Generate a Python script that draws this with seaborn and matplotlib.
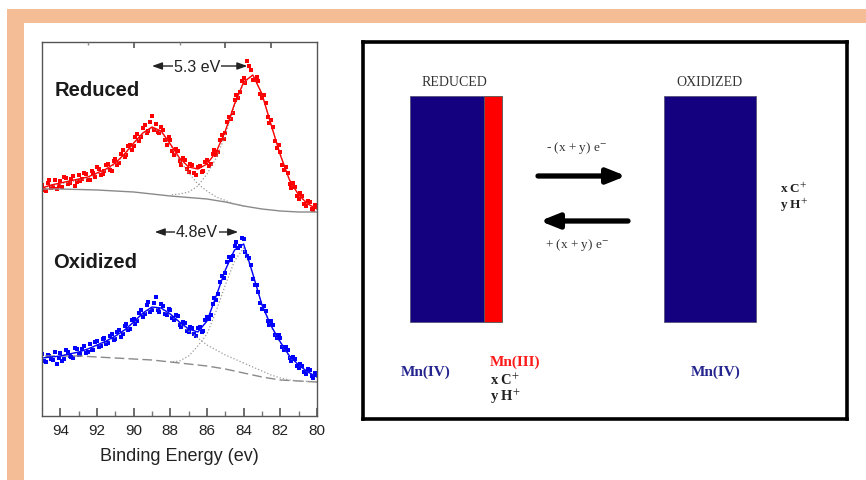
import matplotlib
matplotlib.use('Agg')
import matplotlib.pyplot as plt
from matplotlib.patches import Rectangle
import seaborn as sns

# XPS Mn 3s region, binding energy in eV (measured points, two interleaved scans)
energy = [95.0, 94.8, 94.6, 94.4, 94.2, 94.0, 93.8, 93.6, 93.4, 93.2,
          93.0, 92.8, 92.6, 92.4, 92.2, 92.0, 91.8, 91.6, 91.4, 91.2,
          91.0, 90.8, 90.6, 90.4, 90.2, 90.0, 89.8, 89.6, 89.4, 89.2,
          89.0, 88.8, 88.6, 88.4, 88.2, 88.0, 87.8, 87.6, 87.4, 87.2,
          87.0, 86.8, 86.6, 86.4, 86.2, 86.0, 85.8, 85.6, 85.4, 85.2,
          85.0, 84.8, 84.6, 84.4, 84.2, 84.0, 83.8, 83.6, 83.4, 83.2,
          83.0, 82.8, 82.6, 82.4, 82.2, 82.0, 81.8, 81.6, 81.4, 81.2,
          81.0, 80.8, 80.6, 80.4, 80.2, 80.0]
reduced = [231, 225, 236, 229, 227, 235, 239, 232, 237, 230,
           241, 237, 242, 236, 243, 249, 241, 245, 252, 245,
           257, 253, 266, 261, 271, 270, 282, 279, 291, 285,
           300, 292, 283, 286, 271, 276, 261, 265, 251, 256,
           244, 251, 241, 250, 245, 256, 252, 266, 264, 281,
           283, 299, 303, 321, 324, 338, 355, 346, 336, 335,
           318, 313, 293, 289, 268, 264, 246, 243, 228, 229,
           217, 220, 210, 214, 206, 209]
oxidized = [62, 54, 60, 56, 52, 63, 57, 64, 59, 68,
            61, 67, 63, 72, 66, 75, 70, 78, 73, 82,
            77, 86, 82, 92, 87, 97, 95, 106, 102, 114,
            106, 119, 104, 110, 101, 106, 96, 100, 89, 93,
            84, 88, 80, 89, 85, 99, 101, 118, 122, 140,
            143, 159, 160, 174, 170, 177, 160, 151, 131, 124,
            107, 105, 91, 91, 78, 78, 66, 66, 55, 57,
            48, 50, 42, 46, 38, 41]

energy_b = [94.9, 94.7, 94.5, 94.3, 94.1, 93.9, 93.7, 93.5, 93.3, 93.1,
            92.9, 92.7, 92.5, 92.3, 92.1, 91.9, 91.7, 91.5, 91.3, 91.1,
            90.9, 90.7, 90.5, 90.3, 90.1, 89.9, 89.7, 89.5, 89.3, 89.1,
            88.9, 88.7, 88.5, 88.3, 88.1, 87.9, 87.7, 87.5, 87.3, 87.1,
            86.9, 86.7, 86.5, 86.3, 86.1, 85.9, 85.7, 85.5, 85.3, 85.1,
            84.9, 84.7, 84.5, 84.3, 84.1, 83.9, 83.7, 83.5, 83.3, 83.1,
            82.9, 82.7, 82.5, 82.3, 82.1, 81.9, 81.7, 81.5, 81.3, 81.1,
            80.9, 80.7, 80.5, 80.3, 80.1]
reduced_b = [226, 233, 228, 236, 230, 229, 238, 233, 240, 234,
             235, 243, 236, 245, 239, 247, 242, 251, 246, 255,
             251, 262, 259, 270, 266, 279, 275, 288, 283, 294,
             286, 284, 289, 276, 279, 265, 267, 255, 258, 247,
             252, 243, 249, 244, 254, 250, 262, 261, 276, 277,
             294, 297, 316, 318, 335, 333, 350, 336, 339, 322,
             321, 299, 296, 275, 271, 251, 249, 232, 233, 220,
             223, 212, 215, 207, 211]
oxidized_b = [55, 61, 57, 64, 58, 55, 66, 60, 58, 67,
              62, 70, 64, 66, 74, 69, 77, 72, 80, 76,
              84, 79, 90, 86, 96, 92, 103, 99, 111, 104,
              113, 106, 112, 102, 107, 98, 101, 91, 94, 85,
              89, 82, 88, 84, 96, 97, 112, 116, 134, 138,
              154, 156, 170, 168, 178, 164, 158, 137, 131, 113,
              110, 95, 95, 81, 81, 69, 69, 58, 59, 50,
              52, 44, 47, 40, 43]

# fitted envelopes
fit_energy = [95.0, 94.5, 94.0, 93.5, 93.0, 92.5, 92.0, 91.5, 91.0, 90.5,
              90.0, 89.5, 89.0, 88.5, 88.0, 87.5, 87.0, 86.5, 86.0, 85.5,
              85.0, 84.5, 84.0, 83.5, 83.0, 82.5, 82.0, 81.5, 81.0, 80.5, 80.0]
reduced_fit = [228, 231, 233, 235, 237, 239, 243, 247, 253, 262,
               273, 283, 289, 285, 272, 258, 249, 247, 252, 264,
               285, 312, 334, 341, 322, 291, 261, 236, 221, 212, 207]
oxidized_fit = [58, 59, 60, 62, 64, 67, 71, 75, 80, 86,
                94, 103, 109, 108, 102, 94, 87, 84, 95, 120,
                146, 166, 172, 142, 111, 90, 74, 60, 51, 44, 39]

# fit components (satellite peak 1 from 95 eV, main peak 2 from 88 eV)
comp1_energy = fit_energy[:23]
comp2_energy = fit_energy[14:]
reduced_c1 = [228, 230, 232, 234, 236, 238, 242, 246, 252, 261, 272, 282,
              288, 284, 271, 256, 243, 232, 225, 219, 215.5, 212, 210]
reduced_c2 = [221, 222, 224, 230, 242, 258, 281, 310, 333, 341, 322, 291,
              261, 236, 221, 212, 207]
oxidized_c1 = [58, 59, 60, 62, 64, 67, 70, 74, 79, 85, 93, 102,
               108, 107, 101, 93, 85, 78, 71, 66, 61, 57, 53]
oxidized_c1_tail = [53, 49, 45, 41, 38, 36, 35, 34.5, 34]
oxidized_c2 = [54, 55, 60, 70, 82, 105, 131, 155, 168, 142, 111, 89,
               73, 59, 51, 44, 39]

# Shirley backgrounds
bg_energy = [95, 94, 93, 92, 91, 90, 89, 88, 87, 86, 85, 84, 83, 82, 81, 80]
reduced_bg = [227, 227, 226.5, 226, 225, 224, 222, 220, 218.5, 217, 214, 210, 207, 205, 204, 204]
oxidized_bg = [60, 60, 60, 59, 58, 57, 56, 54, 52, 50, 47, 43, 39, 36, 35, 34]

sns.set_theme(style='white')
plt.rcParams['font.family'] = ['Liberation Sans', 'DejaVu Sans']
plt.rcParams['mathtext.fontset'] = 'stix'

fig = plt.figure(figsize=(8.66, 4.81), dpi=100)
fig.patch.set_facecolor('white')

# peach frame
peach = '#F4BD96'
fig.add_artist(Rectangle((7 / 866, 457 / 481), 859 / 866, 14 / 481,
                         transform=fig.transFigure, color=peach, lw=0))
fig.add_artist(Rectangle((7 / 866, 0), 17 / 866, 471 / 481,
                         transform=fig.transFigure, color=peach, lw=0))

# ---- left: spectra ----
ax = fig.add_axes([42 / 866, 64 / 481, 275 / 866, 374 / 481])
gray = '#8a8a8a'
dot = '#9a9a9a'
sns.lineplot(x=bg_energy, y=reduced_bg, ax=ax, color=gray, lw=1.0)
sns.lineplot(x=comp1_energy, y=reduced_c1, ax=ax, color=dot, lw=0.9, linestyle=':')
sns.lineplot(x=comp2_energy, y=reduced_c2, ax=ax, color=dot, lw=0.9, linestyle=':')
sns.lineplot(x=fit_energy, y=reduced_fit, ax=ax, color='red', lw=1.0)
sns.scatterplot(x=energy, y=reduced, ax=ax, color='red', marker='s', s=10, linewidth=0)
sns.scatterplot(x=energy_b, y=reduced_b, ax=ax, color='red', marker='s', s=10, linewidth=0)

sns.lineplot(x=bg_energy, y=oxidized_bg, ax=ax, color=gray, lw=1.0, linestyle=(0, (7, 3)))
sns.lineplot(x=comp1_energy, y=oxidized_c1, ax=ax, color=dot, lw=0.9, linestyle=':')
sns.lineplot(x=fit_energy[22:], y=oxidized_c1_tail, ax=ax, color=dot, lw=0.9, linestyle=':')
sns.lineplot(x=comp2_energy, y=oxidized_c2, ax=ax, color=dot, lw=0.9, linestyle=':')
sns.lineplot(x=fit_energy, y=oxidized_fit, ax=ax, color='blue', lw=1.0)
sns.scatterplot(x=energy, y=oxidized, ax=ax, color='blue', marker='s', s=10, linewidth=0)
sns.scatterplot(x=energy_b, y=oxidized_b, ax=ax, color='blue', marker='s', s=10, linewidth=0)

ax.set_xlim(95, 80)
ax.set_ylim(0, 374)
ax.set_yticks([])
ax.set_xticks([94, 92, 90, 88, 86, 84, 82, 80])
ax.set_xticks([93, 91, 89, 87, 85, 83, 81], minor=True)
ax.tick_params(axis='x', which='major', direction='in', length=6, width=1.2,
               color='#555555', labelsize=11, pad=5, labelcolor='#222222', bottom=True)
ax.tick_params(axis='x', which='minor', direction='in', length=3.5, width=1,
               color='#777777', bottom=True)
ax.set_xlabel('Binding Energy (ev)', fontsize=13, color='#222222', labelpad=7)
ax.set_ylabel('')
for s in ax.spines.values():
    s.set_color('#555555')
    s.set_linewidth(1.0)

top = ax.twiny()
top.set_xlim(95, 80)
top.set_xticks([90, 85, 82.5])
top.set_xticks([92.5, 87.5], minor=True)
top.tick_params(axis='x', which='major', direction='in', length=4, width=1.2,
                color='#555555', labeltop=False)
top.tick_params(axis='x', which='minor', direction='in', length=2.5, width=1,
                color='#888888')
top.spines[:].set_visible(False)

ax.text(94.3, 326, 'Reduced', fontsize=14.5, weight='bold', color='#1a1a1a',
        va='center', ha='left')
ax.text(94.4, 155, 'Oxidized', fontsize=14.5, weight='bold', color='#1a1a1a',
        va='center', ha='left')

arrow = dict(arrowstyle='<|-|>,head_length=0.5,head_width=0.18', lw=1.0,
             color='#222222', shrinkA=0, shrinkB=0)
ax.annotate('', xy=(89.0, 350), xytext=(83.8, 350), arrowprops=arrow)
ax.text(86.55, 350, '5.3 eV', fontsize=11.5, ha='center', va='center', color='#222222',
        bbox=dict(facecolor='white', edgecolor='none', pad=0.5))
ax.annotate('', xy=(88.85, 184), xytext=(84.3, 184), arrowprops=arrow)
ax.text(86.55, 184, '4.8eV', fontsize=11.5, ha='center', va='center', color='#222222',
        bbox=dict(facecolor='white', edgecolor='none', pad=0.5))

# ---- right: schematic ----
navy = '#13017F'
ax2 = fig.add_axes([363 / 866, 61 / 481, 484 / 866, 377 / 481])
ax2.set_xlim(363, 847)
ax2.set_ylim(420, 43)
ax2.set_xticks([])
ax2.set_yticks([])
for s in ax2.spines.values():
    s.set_color('black')
    s.set_linewidth(2.6)

ax2.add_patch(Rectangle((410, 97), 74, 226, facecolor=navy, edgecolor='#555577', lw=0.6))
ax2.add_patch(Rectangle((484, 97), 18, 226, facecolor='#FF0000', edgecolor='#555555', lw=0.6))
ax2.add_patch(Rectangle((664, 97), 92, 226, facecolor=navy, edgecolor='#555577', lw=0.6))

serif = ['Liberation Serif', 'DejaVu Serif']
ax2.text(454, 83, 'REDUCED', family=serif, fontsize=10, ha='center', va='center', color='#333333')
ax2.text(709, 83, 'OXIDIZED', family=serif, fontsize=10, ha='center', va='center', color='#333333')

big_arrow = dict(arrowstyle='-|>,head_length=0.55,head_width=0.22', lw=3.8,
                 color='black', shrinkA=0, shrinkB=0, mutation_scale=20)
ax2.annotate('', xy=(626, 177), xytext=(538, 177), arrowprops=big_arrow)
ax2.annotate('', xy=(540, 222), xytext=(628, 222), arrowprops=big_arrow)
ax2.text(577, 148, r'- (x + y) e$^{-}$', family=serif, fontsize=9.5, ha='center',
         va='center', color='#333333')
ax2.text(577, 245, r'+ (x + y) e$^{-}$', family=serif, fontsize=9.5, ha='center',
         va='center', color='#333333')

ax2.text(780, 189, r'x C$^{+}$', family=serif, fontsize=9.5, weight='bold', ha='left',
         va='center', color='#222222')
ax2.text(780, 205, r'y H$^{+}$', family=serif, fontsize=9.5, weight='bold', ha='left',
         va='center', color='#222222')

ax2.text(426, 372, 'Mn(IV)', family=serif, fontsize=11, weight='bold', ha='center',
         va='center', color='#25258F')
ax2.text(716, 372, 'Mn(IV)', family=serif, fontsize=11, weight='bold', ha='center',
         va='center', color='#25258F')
ax2.text(490, 362, 'Mn(III)', family=serif, fontsize=11, weight='bold', ha='left',
         va='center', color='#FF1A1A')
ax2.text(490, 380, r'x C$^{+}$', family=serif, fontsize=10.5, weight='bold', ha='left',
         va='center', color='#222222')
ax2.text(490, 397, r'y H$^{+}$', family=serif, fontsize=10.5, weight='bold', ha='left',
         va='center', color='#222222')

fig.savefig('out.png', dpi=100)
